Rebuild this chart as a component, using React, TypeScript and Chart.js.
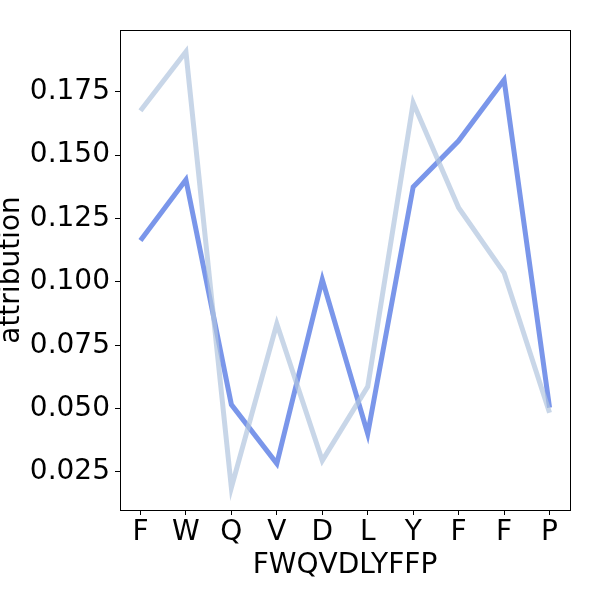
import React, { useEffect, useRef } from "react";
import { Chart, registerables } from "chart.js";

Chart.register(...registerables);

const categories = ["F", "W", "Q", "V", "D", "L", "Y", "F", "F", "P"];
const seriesDark = [0.1163, 0.1403, 0.0516, 0.0283, 0.1009, 0.0401, 0.1375, 0.1557, 0.1797, 0.0504];
const seriesLight = [0.1675, 0.1908, 0.0188, 0.0835, 0.0295, 0.0587, 0.1707, 0.1293, 0.1036, 0.0484];
const yTicks = [0.025, 0.05, 0.075, 0.1, 0.125, 0.15, 0.175];
const xTitle = "FWQVDLYFFP";
const yTitle = "attribution";

const FONT = "'DejaVu Sans', sans-serif";

const frame = {
  id: "frame",
  afterDatasetsDraw(chart: any) {
    const { ctx, chartArea } = chart;
    ctx.save();
    ctx.strokeStyle = "#000";
    ctx.lineWidth = 1;
    ctx.strokeRect(
      Math.round(chartArea.left) + 0.5,
      Math.round(chartArea.top) + 0.5,
      Math.round(chartArea.right - chartArea.left),
      Math.round(chartArea.bottom - chartArea.top)
    );
    ctx.restore();
  },
};

export default function App() {
  const ref = useRef<HTMLCanvasElement | null>(null);
  useEffect(() => {
    if (!ref.current) return;
    const chart = new Chart(ref.current, {
      type: "line",
      data: {
        datasets: [
          {
            label: "light",
            data: seriesLight.map((v, i) => ({ x: i, y: v })),
            borderColor: "rgba(176,196,222,0.7)",
            borderWidth: 5,
            pointRadius: 0,
            fill: false,
            tension: 0,
            order: 0,
          },
          {
            label: "dark",
            data: seriesDark.map((v, i) => ({ x: i, y: v })),
            borderColor: "rgba(65,105,225,0.7)",
            borderWidth: 5,
            pointRadius: 0,
            fill: false,
            tension: 0,
            order: 1,
          },
        ],
      },
      options: {
        animation: false,
        responsive: false,
        devicePixelRatio: 1,
        layout: { padding: { left: 0, top: 30, right: 30, bottom: 0 } },
        plugins: { legend: { display: false }, tooltip: { enabled: false } },
        scales: {
          x: {
            type: "linear",
            min: -0.45,
            max: 9.45,
            afterBuildTicks: (s: any) => {
              s.ticks = categories.map((_, i) => ({ value: i }));
            },
            afterFit: (s: any) => {
              s.height = 90;
            },
            ticks: {
              callback: (v: any) => categories[Math.round(Number(v))],
              color: "#000",
              font: { family: FONT, size: 28 },
              padding: 1,
              maxRotation: 0,
              autoSkip: false,
            },
            grid: { drawOnChartArea: false, drawTicks: true, tickLength: 5, tickColor: "#000", tickWidth: 1 },
            border: { display: true, color: "#000", width: 1 },
            title: {
              display: true,
              text: xTitle,
              color: "#000",
              font: { family: FONT, size: 28 },
              padding: { top: 0, bottom: 17 },
            },
          },
          y: {
            type: "linear",
            min: 0.01,
            max: 0.1994,
            afterBuildTicks: (s: any) => {
              s.ticks = yTicks.map((v) => ({ value: v }));
            },
            afterFit: (s: any) => {
              s.width = 120;
            },
            ticks: {
              callback: (v: any) => Number(v).toFixed(3),
              color: "#000",
              font: { family: FONT, size: 28 },
              padding: 5,
            },
            grid: { drawOnChartArea: false, drawTicks: true, tickLength: 5, tickColor: "#000", tickWidth: 1 },
            border: { display: true, color: "#000", width: 1 },
            title: {
              display: true,
              text: yTitle,
              color: "#000",
              font: { family: FONT, size: 28, lineHeight: 0.85 },
              padding: { top: 0, bottom: 0 },
            },
          },
        },
      },
      plugins: [frame],
    });
    return () => chart.destroy();
  }, []);
  return (
    <div style={{ position: "absolute", left: 0, top: 0, width: 600, height: 600, background: "#fff" }}>
      <canvas ref={ref} width={600} height={600} style={{ width: 600, height: 600 }} />
    </div>
  );
}
